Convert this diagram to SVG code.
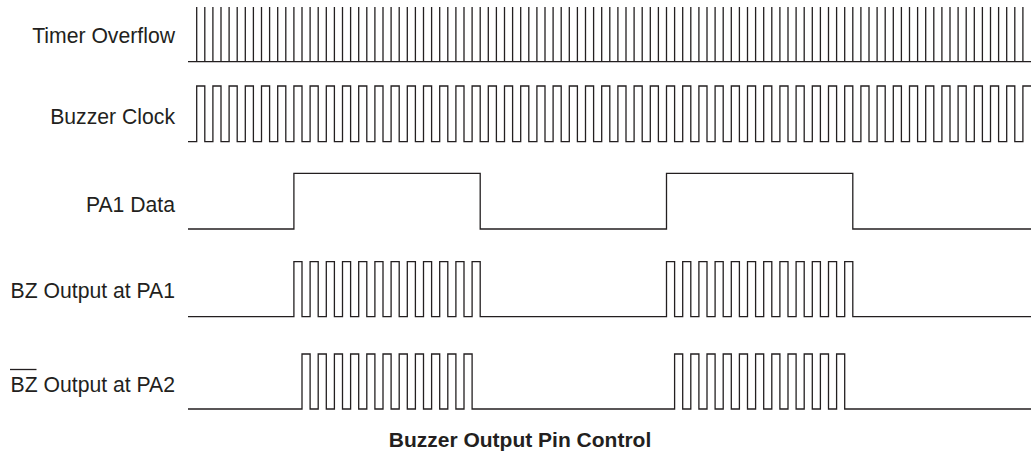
<svg xmlns="http://www.w3.org/2000/svg" width="1034" height="452" viewBox="0 0 1034 452">
<style>
.lbl{font-family:"Liberation Sans",Arial,sans-serif;font-size:21.2px;fill:#231f20;text-anchor:end}
.ttl{font-family:"Liberation Sans",Arial,sans-serif;font-size:21px;font-weight:bold;fill:#231f20;text-anchor:middle}
.sig{fill:none;stroke:#231f20;stroke-width:1.3;stroke-linejoin:miter}
</style>
<rect width="1034" height="452" fill="#fff"/>
<g id="label-timer"><text class="lbl" x="175" y="43.3">Timer Overflow</text></g>
<g id="label-clock"><text class="lbl" x="175" y="124">Buzzer Clock</text></g>
<g id="label-pa1data"><text class="lbl" x="175" y="212">PA1 Data</text></g>
<g id="label-bzpa1"><text class="lbl" x="175" y="298.3">BZ Output at PA1</text></g>
<g id="label-bzpa2"><text class="lbl" x="175" y="391.7">BZ Output at PA2</text><line x1="10" y1="369.5" x2="36.5" y2="369.5" stroke="#231f20" stroke-width="1.3"/></g>
<g id="signals">
<g id="timer-overflow">
<line x1="188" y1="61.7" x2="1031" y2="61.7" class="sig"/>
<line x1="196.05" y1="34.35" x2="1023.6" y2="34.35" stroke="#231f20" stroke-width="54.7" stroke-dasharray="1.3 6.8"/>
</g>
<path id="buzzer-clock" class="sig" d="M188,141.7H196.7
V86h8.1V141.7h8.1V86h8.1V141.7h8.1V86h8.1V141.7h8.1V86h8.1V141.7h8.1V86h8.1V141.7h8.1
V86h8.1V141.7h8.1V86h8.1V141.7h8.1V86h8.1V141.7h8.1V86h8.1V141.7h8.1V86h8.1V141.7h8.1
V86h8.1V141.7h8.1V86h8.1V141.7h8.1V86h8.1V141.7h8.1V86h8.1V141.7h8.1V86h8.1V141.7h8.1
V86h8.1V141.7h8.1V86h8.1V141.7h8.1V86h8.1V141.7h8.1V86h8.1V141.7h8.1V86h8.1V141.7h8.1
V86h8.1V141.7h8.1V86h8.1V141.7h8.1V86h8.1V141.7h8.1V86h8.1V141.7h8.1V86h8.1V141.7h8.1
V86h8.1V141.7h8.1V86h8.1V141.7h8.1V86h8.1V141.7h8.1V86h8.1V141.7h8.1V86h8.1V141.7h8.1
V86h8.1V141.7h8.1V86h8.1V141.7h8.1V86h8.1V141.7h8.1V86h8.1V141.7h8.1V86h8.1V141.7h8.1
V86h8.1V141.7h8.1V86h8.1V141.7h8.1V86h8.1V141.7h8.1V86h8.1V141.7h8.1V86h8.1V141.7h8.1
V86h8.1V141.7h8.1V86h8.1V141.7h8.1V86h8.1V141.7h8.1V86h8.1V141.7h8.1V86h8.1V141.7h8.1
V86h8.1V141.7h8.1V86h8.1V141.7h8.1V86h8.1V141.7h8.1V86h8.1V141.7h8.1V86h8.1V141.7h8.1
V86h8.1V141.7h8.1
V86H1031"/>
<path id="pa1-data" class="sig" d="M188,229H293.9V173.3H480.2V229H666.5V173.3H852.8V229H1031"/>
<path id="bz-pa1" class="sig" d="M188,316.7H293.9
V261.7h8.1V316.7h8.1V261.7h8.1V316.7h8.1V261.7h8.1V316.7h8.1V261.7h8.1V316.7h8.1
V261.7h8.1V316.7h8.1V261.7h8.1V316.7h8.1V261.7h8.1V316.7h8.1V261.7h8.1V316.7h8.1
V261.7h8.1V316.7h8.1V261.7h8.1V316.7h8.1V261.7h8.1V316.7h8.1V261.7h8.1V316.7h8.1
H666.5
V261.7h8.1V316.7h8.1V261.7h8.1V316.7h8.1V261.7h8.1V316.7h8.1V261.7h8.1V316.7h8.1
V261.7h8.1V316.7h8.1V261.7h8.1V316.7h8.1V261.7h8.1V316.7h8.1V261.7h8.1V316.7h8.1
V261.7h8.1V316.7h8.1V261.7h8.1V316.7h8.1V261.7h8.1V316.7h8.1V261.7h8.1V316.7h8.1
H1031"/>
<path id="bz-pa2" class="sig" d="M188,409H302
V354h8.1V409h8.1V354h8.1V409h8.1V354h8.1V409h8.1V354h8.1V409h8.1
V354h8.1V409h8.1V354h8.1V409h8.1V354h8.1V409h8.1V354h8.1V409h8.1
V354h8.1V409h8.1V354h8.1V409h8.1V354h8.1V409h8.1
H674.6
V354h8.1V409h8.1V354h8.1V409h8.1V354h8.1V409h8.1V354h8.1V409h8.1
V354h8.1V409h8.1V354h8.1V409h8.1V354h8.1V409h8.1V354h8.1V409h8.1
V354h8.1V409h8.1V354h8.1V409h8.1V354h8.1V409h8.1
H1031"/>
</g>
<g id="title"><text class="ttl" x="520" y="446.7">Buzzer Output Pin Control</text></g>
</svg>
